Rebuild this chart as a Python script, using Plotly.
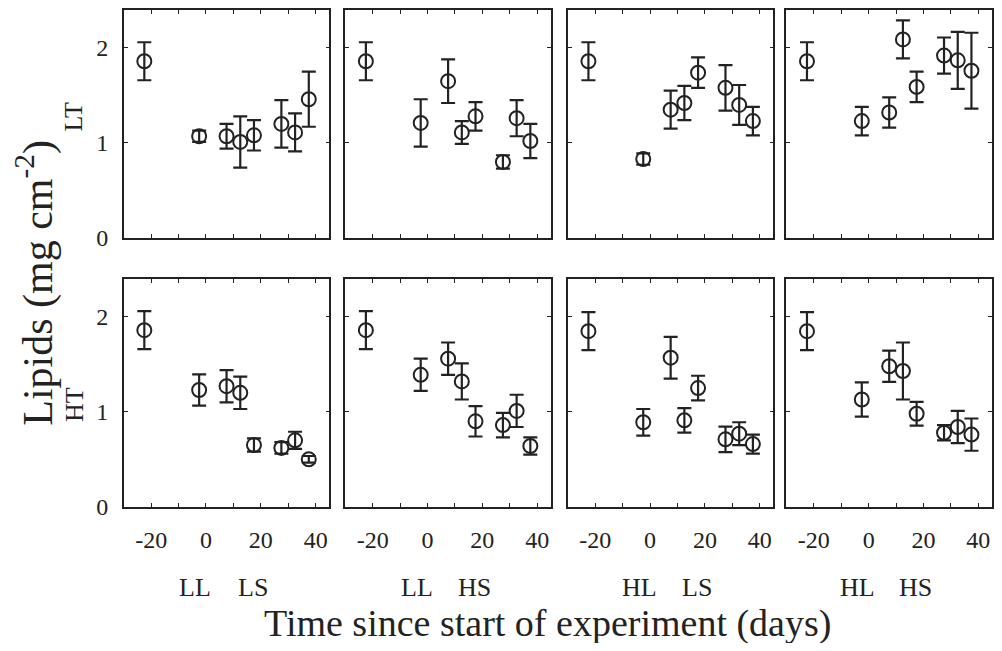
import plotly.graph_objects as go
from plotly.subplots import make_subplots

# ---- data ----
days = [-22.5, -2.5, 7.5, 12.5, 17.5, 27.5, 32.5, 37.5]

# row LT (low temperature)
lt_ll_ls = [1.86, 1.07, 1.07, 1.01, 1.08, 1.20, 1.11, 1.46]
lt_ll_ls_err = [0.20, 0.06, 0.13, 0.27, 0.16, 0.25, 0.20, 0.29]
lt_ll_hs = [1.86, 1.21, 1.65, 1.11, 1.28, 0.80, 1.26, 1.02]
lt_ll_hs_err = [0.20, 0.25, 0.23, 0.12, 0.15, 0.07, 0.19, 0.18]
lt_hl_ls = [1.86, 0.83, 1.35, 1.42, 1.74, 1.58, 1.40, 1.23]
lt_hl_ls_err = [0.20, 0.06, 0.20, 0.18, 0.16, 0.24, 0.21, 0.15]
lt_hl_hs = [1.86, 1.23, 1.32, 2.09, 1.59, 1.92, 1.87, 1.76]
lt_hl_hs_err = [0.20, 0.15, 0.16, 0.20, 0.16, 0.19, 0.30, 0.40]

# row HT (high temperature)
ht_ll_ls = [1.86, 1.23, 1.27, 1.20, 0.65, 0.62, 0.70, 0.50]
ht_ll_ls_err = [0.20, 0.165, 0.17, 0.17, 0.07, 0.06, 0.09, 0.035]
ht_ll_hs = [1.86, 1.39, 1.56, 1.32, 0.90, 0.86, 1.01, 0.64]
ht_ll_hs_err = [0.20, 0.17, 0.17, 0.19, 0.16, 0.13, 0.17, 0.09]
ht_hl_ls = [1.85, 0.89, 1.57, 0.91, 1.25, 0.71, 0.77, 0.66]
ht_hl_ls_err = [0.20, 0.14, 0.22, 0.13, 0.13, 0.135, 0.12, 0.10]
ht_hl_hs = [1.85, 1.13, 1.48, 1.43, 0.98, 0.78, 0.84, 0.76]
ht_hl_hs_err = [0.20, 0.18, 0.165, 0.30, 0.125, 0.08, 0.17, 0.17]

row_labels = ["LT", "HT"]
treat_labels = [("LL", "LS"), ("LL", "HS"), ("HL", "LS"), ("HL", "HS")]
treat_x = [-4, 17]

x_tickvals = [-20, 0, 20, 40]
x_ticktext = ["-20", "0", "20", "40"]
y_tickvals = [0, 1, 2]
y_ticktext = ["0", "1", "2"]

panels = [
    [(lt_ll_ls, lt_ll_ls_err), (lt_ll_hs, lt_ll_hs_err), (lt_hl_ls, lt_hl_ls_err), (lt_hl_hs, lt_hl_hs_err)],
    [(ht_ll_ls, ht_ll_ls_err), (ht_ll_hs, ht_ll_hs_err), (ht_hl_ls, ht_hl_ls_err), (ht_hl_hs, ht_hl_hs_err)],
]

# ---- layout geometry (window pixels; page body has an 8px margin) ----
OFF = 8
W, H = 1002 - 2 * OFF, 651 - 2 * OFF


def fx(p):
    return (p - OFF) / W


def fy(p):
    return 1 - (p - OFF) / H


col_px = [(124, 330), (346, 552), (569, 775), (788, 994)]
row_px = [(9, 242), (284, 517)]

INK = "#222222"
FONT = "Liberation Serif"

fig = make_subplots(rows=2, cols=4)

for r in range(2):
    for c in range(4):
        vals, errs = panels[r][c]
        fig.add_trace(
            go.Scatter(
                x=days, y=vals, mode="markers",
                marker=dict(symbol="circle-open", size=14, color=INK, line=dict(width=2, color=INK)),
                error_y=dict(type="data", array=errs, visible=True, color=INK, thickness=2.2, width=7),
                showlegend=False,
                hoverinfo="skip",
            ),
            row=r + 1, col=c + 1,
        )

for r in range(2):
    for c in range(4):
        idx = r * 4 + c + 1
        sx = "" if idx == 1 else str(idx)
        x0, x1 = col_px[c]
        y0, y1 = row_px[r]
        fig.layout["xaxis" + sx].update(
            domain=[fx(x0), min(fx(x1), 1.0)],
            range=[-30, 45],
            tickvals=x_tickvals,
            ticktext=x_ticktext,
            showticklabels=(r == 1),
            ticks="inside", ticklen=4, tickwidth=1, tickcolor=INK,
            minor=dict(ticks="inside", ticklen=4, tickwidth=1, tickcolor=INK, dtick=10, tick0=0),
            showline=True, linecolor=INK, linewidth=1.5, mirror="ticks",
            showgrid=False, zeroline=False,
            tickfont=dict(family=FONT, size=24, color=INK),
            ticklabelstandoff=11,
        )
        fig.layout["yaxis" + sx].update(
            domain=[fy(y1), fy(y0)],
            range=[0, 2.4],
            tickvals=y_tickvals,
            ticktext=y_ticktext,
            showticklabels=(c == 0),
            ticks="inside", ticklen=4, tickwidth=1, tickcolor=INK,
            showline=True, linecolor=INK, linewidth=1.5, mirror="ticks",
            showgrid=False, zeroline=False,
            tickfont=dict(family=FONT, size=24, color=INK),
            ticklabelstandoff=9,
        )

annotations = []
# treatment labels under bottom row
for c in range(4):
    idx = 4 + c + 1
    for k in range(2):
        annotations.append(dict(
            x=treat_x[k], xref="x%d" % idx, y=fy(600), yref="paper",
            text=treat_labels[c][k], showarrow=False,
            font=dict(family=FONT, size=26, color=INK),
            xanchor="center", yanchor="middle",
        ))
# row labels
row_label_y = [118, 412]
for r in range(2):
    annotations.append(dict(
        x=fx(74), xref="paper", y=fy(row_label_y[r]), yref="paper",
        text=row_labels[r], showarrow=False, textangle=-90,
        font=dict(family=FONT, size=26, color=INK),
        xanchor="center", yanchor="middle",
    ))
# axis titles
annotations.append(dict(
    x=fx(35), xref="paper", y=fy(288), yref="paper",
    text="Lipids (mg cm<sup>-2</sup>)", showarrow=False, textangle=-90,
    font=dict(family=FONT, size=42, color=INK),
    xanchor="center", yanchor="middle",
))
annotations.append(dict(
    x=fx(549), xref="paper", y=fy(636), yref="paper",
    text="Time since start of experiment (days)", showarrow=False,
    font=dict(family=FONT, size=38, color=INK),
    xanchor="center", yanchor="middle",
))

fig.update_layout(
    width=W, height=H,
    margin=dict(l=0, r=0, t=0, b=0),
    paper_bgcolor="white", plot_bgcolor="white",
    annotations=annotations,
    showlegend=False,
)

fig.write_html("out.html")
